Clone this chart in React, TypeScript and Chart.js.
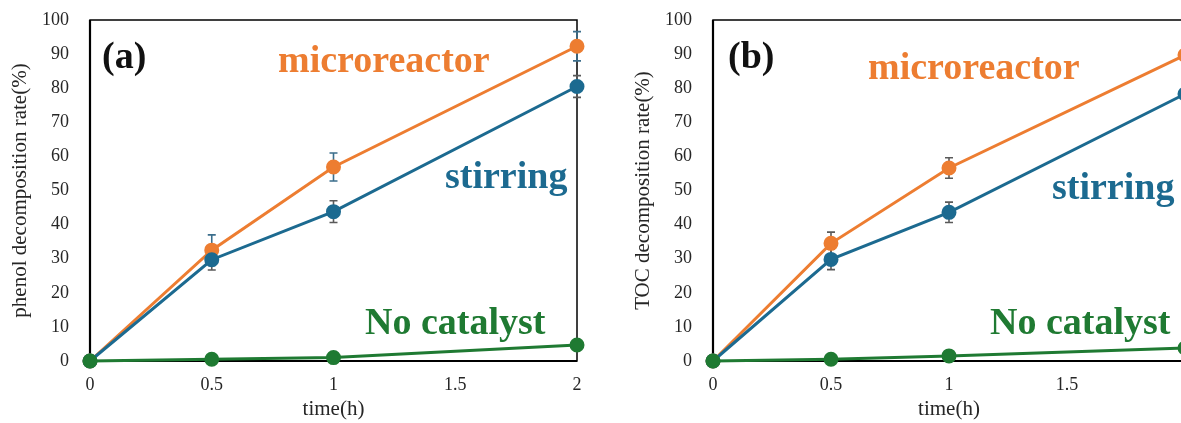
import React, { useEffect, useRef } from "react";
import { Chart, registerables } from "chart.js";

Chart.register(...registerables);

// ---- data ----
const times = [0, 0.5, 1, 2];
const xTickStep = 0.5;
const yTickStep = 10;

const phenolMicro = [0, 32.5, 56.9, 92.3];
const phenolMicroErr = [0, 4.5, 4.1, 4.3];
const phenolStir = [0, 29.7, 43.8, 80.5];
const phenolStirErr = [0, 3, 3.2, 3.2];
const phenolNoCat = [0, 0.5, 1.0, 4.7];

const tocMicro = [0, 34.5, 56.6, 89.7];
const tocMicroErr = [0, 3.3, 3, 3];
const tocStir = [0, 29.8, 43.6, 78.3];
const tocStirErr = [0, 3, 3, 3];
const tocNoCat = [0, 0.5, 1.5, 3.8];

const ORANGE = "#ED7D31";
const BLUE = "#1C6A90";
const GREEN = "#1F7A32";
const SERIF = "'Liberation Serif', 'Times New Roman', serif";
const TEXT = "#262626";

type Label = { text: string; color: string; dx: number; dy: number };

type PanelSpec = {
  yTitle: string;
  micro: number[];
  microErr: number[];
  microErrColor: string;
  stir: number[];
  stirErr: number[];
  stirErrColor: string;
  noCat: number[];
  padRight: number;
  labels: Label[];
};

const panelA: PanelSpec = {
  yTitle: "phenol decomposition rate(%)",
  micro: phenolMicro,
  microErr: phenolMicroErr,
  microErrColor: "#3B6E8C",
  stir: phenolStir,
  stirErr: phenolStirErr,
  stirErrColor: "#5A5A5A",
  noCat: phenolNoCat,
  padRight: 33,
  labels: [
    { text: "(a)", color: "#111111", dx: 12, dy: 48 },
    { text: "microreactor", color: ORANGE, dx: 188, dy: 52 },
    { text: "stirring", color: BLUE, dx: 355, dy: 168 },
    { text: "No catalyst", color: GREEN, dx: 275, dy: 314 },
  ],
};

const panelB: PanelSpec = {
  yTitle: "TOC decomposition rate(%)",
  micro: tocMicro,
  microErr: tocMicroErr,
  microErrColor: "#5A5A5A",
  stir: tocStir,
  stirErr: tocStirErr,
  stirErrColor: "#5A5A5A",
  noCat: tocNoCat,
  padRight: 38,
  labels: [
    { text: "(b)", color: "#111111", dx: 15, dy: 48 },
    { text: "microreactor", color: ORANGE, dx: 155, dy: 59 },
    { text: "stirring", color: BLUE, dx: 339, dy: 179 },
    { text: "No catalyst", color: GREEN, dx: 277, dy: 314 },
  ],
};

function ds(label: string, values: number[], color: string, order: number) {
  return {
    label,
    order,
    data: values.map((v, i) => ({ x: times[i], y: v })),
    borderColor: color,
    backgroundColor: color,
    pointBackgroundColor: color,
    pointBorderColor: color,
    pointRadius: 6,
    pointHoverRadius: 6,
    borderWidth: 3,
    tension: 0,
    clip: false as any,
  };
}

function makeDeco(p: PanelSpec) {
  return {
    id: "deco",
    beforeDatasetsDraw(chart: any) {
      const { ctx, chartArea: a, scales } = chart;
      const xs = scales.x;
      const ys = scales.y;
      ctx.save();
      // frame
      ctx.strokeStyle = "#000";
      ctx.lineWidth = 1.5;
      ctx.strokeRect(a.left, a.top, a.right - a.left, a.bottom - a.top);
      ctx.lineWidth = 2.2;
      ctx.beginPath();
      ctx.moveTo(a.left, a.top);
      ctx.lineTo(a.left, a.bottom);
      ctx.lineTo(a.right, a.bottom);
      ctx.stroke();
      // error bars
      const bars: [number[], number[], string][] = [
        [p.micro, p.microErr, p.microErrColor],
        [p.stir, p.stirErr, p.stirErrColor],
      ];
      ctx.lineWidth = 1.6;
      for (const [vals, errs, col] of bars) {
        ctx.strokeStyle = col;
        vals.forEach((v, i) => {
          const e = errs[i];
          if (!e) return;
          const x = xs.getPixelForValue(times[i]);
          const y1 = ys.getPixelForValue(v + e);
          const y2 = ys.getPixelForValue(v - e);
          ctx.beginPath();
          ctx.moveTo(x, y1);
          ctx.lineTo(x, y2);
          ctx.moveTo(x - 4, y1);
          ctx.lineTo(x + 4, y1);
          ctx.moveTo(x - 4, y2);
          ctx.lineTo(x + 4, y2);
          ctx.stroke();
        });
      }
      ctx.restore();
    },
    afterDraw(chart: any) {
      const { ctx, chartArea: a } = chart;
      ctx.save();
      ctx.font = `bold 38px ${SERIF}`;
      ctx.textAlign = "left";
      ctx.textBaseline = "alphabetic";
      for (const l of p.labels) {
        ctx.fillStyle = l.color;
        ctx.fillText(l.text, a.left + l.dx, a.top + l.dy);
      }
      ctx.restore();
    },
  };
}

function makeConfig(p: PanelSpec): any {
  return {
    type: "line",
    data: {
      datasets: [
        ds("microreactor", p.micro, ORANGE, 3),
        ds("stirring", p.stir, BLUE, 2),
        ds("No catalyst", p.noCat, GREEN, 1),
      ],
    },
    options: {
      animation: false,
      responsive: true,
      maintainAspectRatio: false,
      layout: { padding: { top: 20, right: p.padRight, bottom: 0, left: 0 } },
      plugins: { legend: { display: false }, tooltip: { enabled: false } },
      scales: {
        x: {
          type: "linear",
          min: 0,
          max: 2,
          grid: { display: false, drawTicks: false },
          border: { display: false },
          ticks: {
            stepSize: xTickStep,
            padding: 13,
            color: TEXT,
            font: { family: SERIF, size: 18 },
            maxRotation: 0,
            callback: (v: number) => String(v),
          },
          title: {
            display: true,
            text: "time(h)",
            color: TEXT,
            font: { family: SERIF, size: 21 },
            padding: { top: 0, bottom: 1.4 },
          },
          afterFit: (s: any) => {
            s.height = 62;
            s.paddingLeft = 0;
            s.paddingRight = 0;
          },
        },
        y: {
          min: 0,
          max: 100,
          grid: { display: false, drawTicks: false },
          border: { display: false },
          ticks: {
            stepSize: yTickStep,
            padding: 21,
            color: TEXT,
            font: { family: SERIF, size: 18 },
            callback: (v: number) => String(v),
          },
          title: {
            display: true,
            text: p.yTitle,
            color: TEXT,
            font: { family: SERIF, size: 21 },
            padding: { top: 8, bottom: 0 },
          },
          afterFit: (s: any) => {
            s.width = 90;
            s.paddingTop = 0;
            s.paddingBottom = 0;
          },
        },
      },
    },
    plugins: [makeDeco(p)],
  };
}

function Panel({ spec, left, width }: { spec: PanelSpec; left: number; width: number }) {
  const ref = useRef<HTMLCanvasElement>(null);
  useEffect(() => {
    const chart = new Chart(ref.current as HTMLCanvasElement, makeConfig(spec));
    return () => chart.destroy();
  }, [spec]);
  return (
    <div style={{ position: "absolute", left, top: 0, width, height: 423 }}>
      <canvas ref={ref} />
    </div>
  );
}

export default function App() {
  return (
    <div
      style={{
        position: "absolute",
        left: 0,
        top: 0,
        width: 1181,
        height: 423,
        overflow: "hidden",
        background: "#ffffff",
      }}
    >
      <Panel spec={panelA} left={0} width={610} />
      <Panel spec={panelB} left={623} width={600} />
    </div>
  );
}
